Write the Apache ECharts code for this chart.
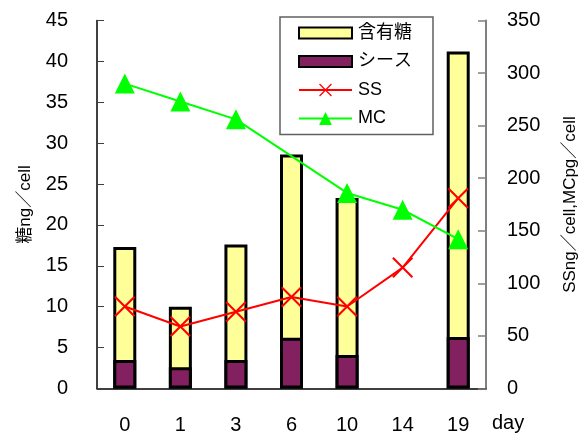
<!DOCTYPE html>
<html>
<head>
<meta charset="utf-8">
<script src="https://cdn.jsdelivr.net/npm/echarts@6/dist/echarts.min.js"></script>
<style>
  html, body { margin: 0; padding: 0; background: #fff; }
  #chart { width: 582px; height: 434px; }
</style>
</head>
<body>
<div id="chart"></div>
<script>
// Sampling days
var days = ['0', '1', '3', '6', '10', '14', '19'];

// Sugar per cell (ng/cell): sheath at the bottom, contained sugar on top of it
var sheath = [3.5, 2.6, 3.5, 6.2, 4.1, null, 6.3];
var containedSugar = [13.8, 7.4, 14.1, 22.4, 19.2, null, 34.9];

// Right-axis series
var ss = [78, 59, 73, 87, 78, 115, 181];        // SS ng/cell
var mc = [290, 273, 256, null, 186, 170, 142];  // MC pg/cell

// Axis ticks
var leftAxis = { min: 0, max: 45, interval: 5 };
var rightAxis = { min: 0, max: 350, interval: 50 };

// Full column height = sheath + contained sugar; the sheath column is laid over it
// so the two share a single border line at the join.
var sugarTotal = sheath.map(function (v, i) {
  return v == null || containedSugar[i] == null ? null : +(v + containedSugar[i]).toFixed(2);
});

var FONT = '"Liberation Sans", Arial, "Noto Sans CJK JP", sans-serif';
var crossPath = 'path://M0,0.7 L0.7,0 L10,9.3 L9.3,10 Z M9.3,0 L10,0.7 L0.7,10 L0,9.3 Z';
var barIcon = 'path://M0,0 H53 V11 H0 Z';

var chart = echarts.init(document.getElementById('chart'), null, { renderer: 'canvas' });

chart.setOption({
  animation: false,
  backgroundColor: '#ffffff',
  textStyle: { fontFamily: FONT, color: '#000' },
  grid: { left: 97, right: 96, top: 20.5, bottom: 45.5, containLabel: false, outerBoundsMode: 'none' },
  legend: {
    orient: 'vertical',
    left: 280,
    top: 17,
    itemWidth: 53,
    itemHeight: 16,
    itemGap: 10.5,
    padding: [7, 21, 7, 18],
    backgroundColor: '#ffffff',
    borderColor: '#606060',
    borderWidth: 1.5,
    borderRadius: 0,
    textStyle: { fontSize: 18, color: '#000', fontFamily: FONT, padding: [0, 0, 0, 1] },
    data: [
      { name: '含有糖', icon: barIcon },
      { name: 'シース', icon: barIcon },
      { name: 'SS' },
      { name: 'MC' }
    ]
  },
  xAxis: {
    type: 'category',
    data: days,
    boundaryGap: true,
    name: 'day',
    nameLocation: 'end',
    nameGap: 6,
    nameMoveOverlap: false,
    nameTextStyle: { fontSize: 20, color: '#000', verticalAlign: 'top', lineHeight: 70 },
    axisLine: { lineStyle: { color: '#000', width: 1.5 } },
    axisTick: { inside: true, length: 7, lineStyle: { color: '#404040', width: 1 } },
    axisLabel: { fontSize: 20, color: '#000', margin: 27 },
    splitLine: { show: false }
  },
  yAxis: [
    {
      type: 'value',
      min: leftAxis.min, max: leftAxis.max, interval: leftAxis.interval,
      name: '糖ng／cell',
      nameLocation: 'middle',
      nameGap: 63,
      nameTextStyle: { fontSize: 17, color: '#000' },
      axisLine: { show: true, lineStyle: { color: '#000', width: 1.5 } },
      axisTick: { show: true, inside: true, length: 7, lineStyle: { color: '#404040', width: 1 } },
      axisLabel: { fontSize: 20, color: '#000', margin: 29 },
      splitLine: { show: false }
    },
    {
      type: 'value',
      position: 'right',
      min: rightAxis.min, max: rightAxis.max, interval: rightAxis.interval,
      name: 'SSng／cell,MCpg／cell',
      nameLocation: 'middle',
      nameGap: 76,
      nameTextStyle: { fontSize: 17, color: '#000' },
      axisLine: { show: true, lineStyle: { color: '#808080', width: 2 } },
      axisTick: { show: true, inside: true, length: 8, lineStyle: { color: '#808080', width: 1.5 } },
      axisLabel: { fontSize: 20, color: '#000', margin: 21, align: 'left' },
      splitLine: { show: false }
    }
  ],
  series: [
    {
      name: '含有糖',
      type: 'bar',
      yAxisIndex: 0,
      barWidth: 23,
      data: sugarTotal,
      itemStyle: { color: '#FFFF99', borderColor: '#000', borderWidth: 3 },
      z: 2
    },
    {
      name: 'シース',
      type: 'bar',
      yAxisIndex: 0,
      barWidth: 23,
      barGap: '-100%',
      data: sheath,
      itemStyle: { color: '#822060', borderColor: '#000', borderWidth: 3 },
      z: 3
    },
    {
      name: 'SS',
      type: 'line',
      yAxisIndex: 1,
      data: ss,
      symbol: crossPath,
      symbolSize: 21,
      lineStyle: { color: '#FF0000', width: 2 },
      itemStyle: { color: '#FF0000' },
      z: 4
    },
    {
      name: 'MC',
      type: 'line',
      yAxisIndex: 1,
      data: mc,
      connectNulls: true,
      symbol: 'triangle',
      symbolSize: 20,
      lineStyle: { color: '#00FF00', width: 2 },
      itemStyle: { color: '#00FF00' },
      z: 5
    }
  ]
});
</script>
</body>
</html>
